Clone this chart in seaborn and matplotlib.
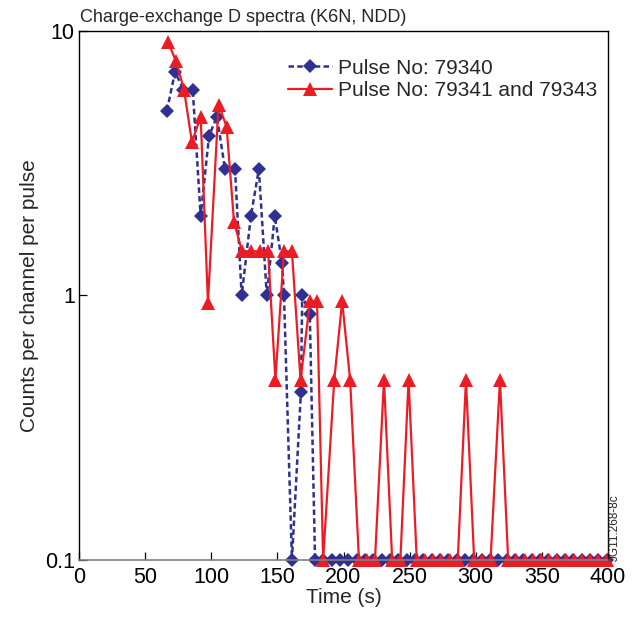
import pandas as pd
import seaborn as sns
import matplotlib
matplotlib.use("Agg")
import matplotlib.pyplot as plt

# Pulse 79340 (blue diamonds), zero counts drawn on the 0.1 floor
blue_time = [66.5, 72.6, 79.0, 86.0, 92.0, 98.3, 104.3, 110.4, 118.0, 123.0,
             130.0, 136.0, 142.0, 148.0, 153.5, 155.0, 161.0, 167.8, 168.8, 174.5,
             178.5, 184.8, 191.1, 197.4, 203.7, 210.0, 216.3, 222.6, 228.9, 235.2,
             241.5, 247.8, 254.1, 260.4, 266.7, 273.0, 279.3, 285.6, 291.9, 298.2,
             304.5, 310.8, 317.1, 323.4, 329.7, 336.0, 342.3, 348.6, 354.9, 361.2,
             367.5, 373.8, 380.1, 386.4, 392.7, 399.0]
blue_counts = [5.0, 7.0, 6.0, 6.0, 2.0, 4.0, 4.75, 3.0, 3.0, 1.0,
               2.0, 3.0, 1.0, 2.0, 1.33, 1.0, 0.1, 0.43, 1.0, 0.85,
               0.1, 0.1, 0.1, 0.1, 0.1, 0.1, 0.1, 0.1, 0.1, 0.1,
               0.1, 0.1, 0.1, 0.1, 0.1, 0.1, 0.1, 0.1, 0.1, 0.1,
               0.1, 0.1, 0.1, 0.1, 0.1, 0.1, 0.1, 0.1, 0.1, 0.1,
               0.1, 0.1, 0.1, 0.1, 0.1, 0.1]

# Pulses 79341 and 79343 (red triangles)
red_time = [67.3, 73.3, 79.4, 85.4, 92.0, 97.5, 105.5, 111.6, 117.2, 123.2,
            130.0, 136.9, 143.0, 148.5, 155.0, 161.0, 167.5, 174.7, 180.0, 184.6,
            193.0, 199.0, 205.0, 211.7, 217.8, 223.8, 230.6, 236.8, 243.0, 249.2,
            255.4, 261.6, 267.8, 274.0, 280.2, 286.4, 292.6, 298.8, 305.0, 311.2,
            318.3, 324.5, 330.7, 336.9, 343.1, 349.3, 355.5, 361.7, 367.9, 374.1,
            380.3, 386.5, 392.7, 398.9]
red_counts = [9.1, 7.7, 6.0, 3.8, 4.75, 0.94, 5.27, 4.35, 1.9, 1.47,
              1.47, 1.47, 1.47, 0.48, 1.47, 1.47, 0.48, 0.95, 0.95, 0.1,
              0.48, 0.95, 0.48, 0.1, 0.1, 0.1, 0.48, 0.1, 0.1, 0.48,
              0.1, 0.1, 0.1, 0.1, 0.1, 0.1, 0.48, 0.1, 0.1, 0.1,
              0.48, 0.1, 0.1, 0.1, 0.1, 0.1, 0.1, 0.1, 0.1, 0.1,
              0.1, 0.1, 0.1, 0.1]

labels = ["Pulse No: 79340", "Pulse No: 79341 and 79343"]
x_ticks = [0, 50, 100, 150, 200, 250, 300, 350, 400]
y_ticks = [0.1, 1, 10]

blue = "#2E3192"
red = "#ED1C24"

sns.set_style("ticks")
plt.rcParams["font.family"] = ["Liberation Sans", "DejaVu Sans"]
plt.rcParams["font.size"] = 15

fig = plt.figure(figsize=(6.35, 6.17), dpi=100)
ax = fig.add_axes([79 / 635, 57 / 617, 529 / 635, 529 / 617])

df_blue = pd.DataFrame({"Time": blue_time, "Counts": blue_counts})
df_red = pd.DataFrame({"Time": red_time, "Counts": red_counts})

# dashed blue line with diamonds, solid red line with triangles
sns.lineplot(data=df_blue, x="Time", y="Counts", ax=ax, color=blue,
             estimator=None, sort=False, label=labels[0],
             linestyle=(0, (2.2, 1.3)), linewidth=1.8,
             marker="D", markersize=7.5, markeredgewidth=0, clip_on=False)
sns.lineplot(data=df_red, x="Time", y="Counts", ax=ax, color=red,
             estimator=None, sort=False, label=labels[1],
             linewidth=1.6, marker="^", markersize=10.5,
             markeredgewidth=0, clip_on=False)

ax.set_yscale("log")
ax.set_xlim(0, 400)
ax.set_ylim(0.1, 10)
ax.set_xticks(x_ticks)
ax.set_yticks(y_ticks)
ax.set_yticklabels(["0.1", "1", "10"])
ax.minorticks_off()
ax.tick_params(direction="in", length=6, width=0.9, colors="black",
               pad=3, labelsize=15.5)
ax.tick_params(axis="x", pad=5)

for side in ["top", "right", "left"]:
    ax.spines[side].set_color("black")
    ax.spines[side].set_linewidth(1.0)
ax.spines["bottom"].set_color("0.5")
ax.spines["bottom"].set_linewidth(1.2)

ax.set_xlabel("Time (s)", labelpad=0, fontsize=15)
ax.set_ylabel("Counts per channel per pulse", fontsize=15)
ax.yaxis.set_label_coords(-0.076, 0.5)

ax.legend(loc="upper left", bbox_to_anchor=(0.395, 0.948), frameon=False,
          borderaxespad=0, borderpad=0, labelspacing=0.18,
          handlelength=2.1, handletextpad=0.3, fontsize=15)

fig.text(80 / 635, 1 - 22 / 617, "Charge-exchange D spectra (K6N, NDD)",
         ha="left", va="baseline", fontsize=13)
fig.text(615 / 635, 1 - 528 / 617, "JG11.268-8c", rotation=90,
         ha="center", va="center", fontsize=8.5)

fig.savefig("out.png", dpi=100)
